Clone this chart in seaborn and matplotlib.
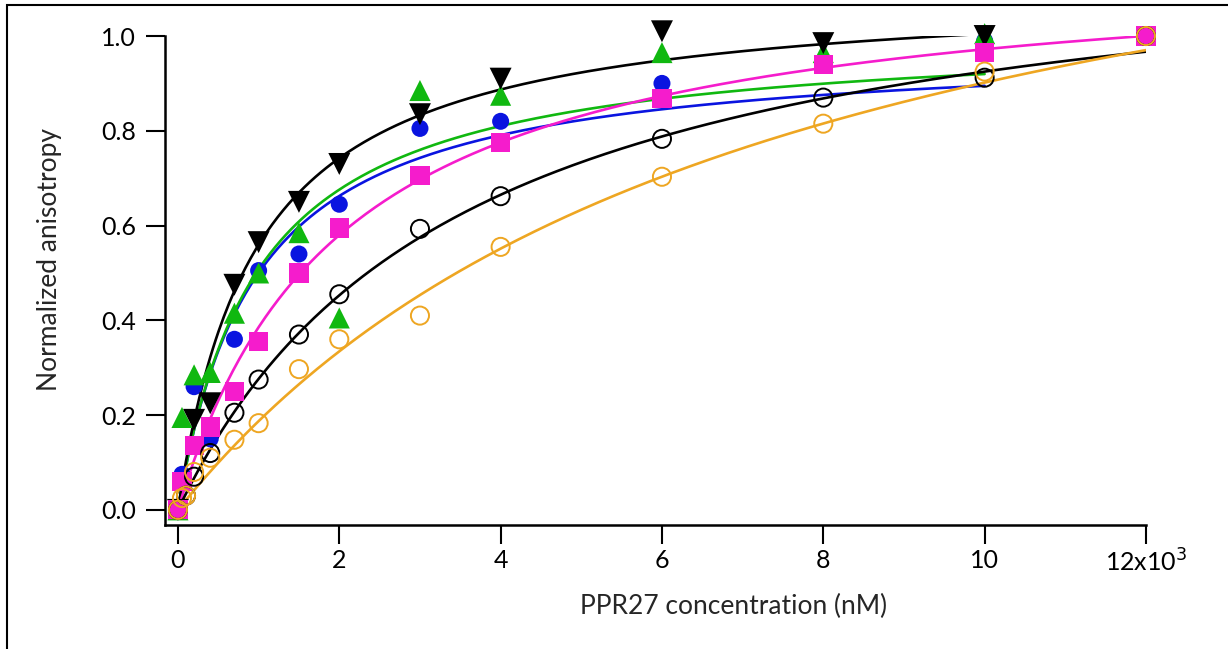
import numpy as np
import pandas as pd
import matplotlib
matplotlib.use("Agg")
import matplotlib.pyplot as plt
from matplotlib.patches import Rectangle
import seaborn as sns

# data (concentration in nM, normalized anisotropy)
tri_x = [0, 200, 400, 700, 1000, 1500, 2000, 3000, 4000, 6000, 8000, 10000]
tri_y = [0.0, 0.19, 0.225, 0.475, 0.565, 0.65, 0.73, 0.835, 0.91, 1.01, 0.985, 1.0]

green_x = [0, 50, 200, 400, 700, 1000, 1500, 2000, 3000, 4000, 6000, 8000, 10000]
green_y = [0.0, 0.195, 0.285, 0.29, 0.415, 0.50, 0.585, 0.405, 0.885, 0.875, 0.965, 0.965, 1.005]

blue_x = [0, 50, 200, 400, 700, 1000, 1500, 2000, 3000, 4000, 6000, 10000]
blue_y = [0.0, 0.075, 0.26, 0.15, 0.36, 0.505, 0.54, 0.645, 0.805, 0.82, 0.90, 0.99]

mag_x = [0, 50, 200, 400, 700, 1000, 1500, 2000, 3000, 4000, 6000, 8000, 10000, 12000]
mag_y = [0.0, 0.06, 0.135, 0.175, 0.25, 0.355, 0.50, 0.595, 0.705, 0.775, 0.868, 0.94, 0.966, 1.0]

open_x = [0, 100, 200, 400, 700, 1000, 1500, 2000, 3000, 4000, 6000, 8000, 10000, 12000]
open_y = [0.0, 0.03, 0.07, 0.12, 0.205, 0.275, 0.37, 0.455, 0.593, 0.662, 0.783, 0.87, 0.912, 1.0]

orange_x = [0, 50, 100, 200, 400, 700, 1000, 1500, 2000, 3000, 4000, 6000, 8000, 10000, 12000]
orange_y = [0.0, 0.025, 0.03, 0.08, 0.11, 0.148, 0.183, 0.297, 0.36, 0.41, 0.555, 0.703, 0.815, 0.925, 1.0]

# binding fit parameters (Bmax, Kd in nM) as estimated from the drawn fit curves
# order: blue, green, black triangles, magenta, black open, orange
fit_bmax = [0.981, 1.011, 1.102, 1.17, 1.251, 1.565]
fit_kd = [962, 992, 969, 2035, 3525, 7355]

xticks = [0, 2000, 4000, 6000, 8000, 10000, 12000]
xticklabels = ["0", "2", "4", "6", "8", "10", "12x10$^3$"]
yticks = [0.0, 0.2, 0.4, 0.6, 0.8, 1.0]

sns.set_theme(style="ticks")
plt.rcParams["font.family"] = ["Lato", "DejaVu Sans"]

fig = plt.figure(figsize=(12.28, 6.49), dpi=100)
ax = fig.add_axes([0.1344, 0.191, 0.7988, 0.7535])

series = [
    (blue_x, blue_y, "#0a14e0", "o", 150, True),
    (green_x, green_y, "#10b810", "^", 230, True),
    (tri_x, tri_y, "black", "v", 250, True),
    (mag_x, mag_y, "#f51ccc", "s", 190, True),
    (open_x, open_y, "black", "o", 170, False),
    (orange_x, orange_y, "#eea622", "o", 170, False),
]

for (x, y, col, mk, size, filled), bmax, kd in zip(series, fit_bmax, fit_kd):
    xs = np.linspace(0, max(x), 300)
    sns.lineplot(x=xs, y=bmax * xs / (kd + xs), color=col, lw=1.9, ax=ax, zorder=2)

for x, y, col, mk, size, filled in series:
    df = pd.DataFrame({"conc": x, "aniso": y})
    if filled:
        sns.scatterplot(data=df, x="conc", y="aniso", marker=mk, s=size,
                        color=col, edgecolor="none", ax=ax, zorder=3, clip_on=False)
    else:
        sns.scatterplot(data=df, x="conc", y="aniso", marker=mk, s=size,
                        facecolor="none", edgecolor=col, linewidth=1.4,
                        ax=ax, zorder=3, clip_on=False)

ax.set_xlim(-160, 12000)
ax.set_ylim(-0.032, 1.0)
ax.set_xticks(xticks)
ax.set_xticklabels(xticklabels)
ax.set_yticks(yticks)
ax.set_yticklabels([f"{v:.1f}" for v in yticks])
ax.tick_params(axis="both", direction="out", length=14, width=1.5,
               labelsize=18, colors="black", pad=3)
ax.tick_params(axis="y", pad=7)
for s in ["top", "right"]:
    ax.spines[s].set_visible(False)
for s in ["left", "bottom"]:
    ax.spines[s].set_linewidth(1.8)
    ax.spines[s].set_color("black")

ax.set_xlabel("PPR27 concentration (nM)", fontsize=19)
ax.set_ylabel("Normalized anisotropy", fontsize=19)
ax.xaxis.set_label_coords(0.58, -0.141)
ax.yaxis.set_label_coords(-0.105, 0.542)

fig.add_artist(Rectangle((7 / 1228, -0.1), 1.2, 1.1 - 5 / 649, transform=fig.transFigure,
                         fill=False, edgecolor="black", lw=1.5))

fig.savefig("out.png", dpi=100)
